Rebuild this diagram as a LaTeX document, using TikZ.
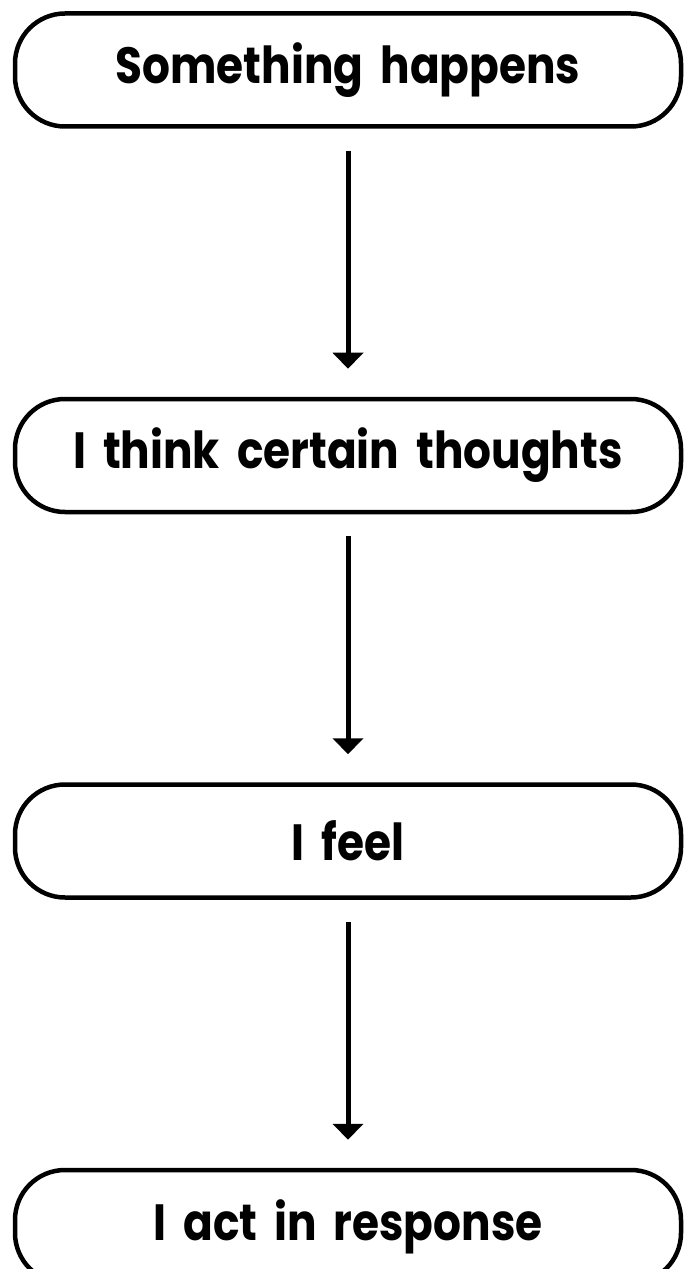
\documentclass[tikz,border=0pt]{standalone}
\usepackage{fontspec}
\setmainfont{Poppins}[BoldFont={* Bold}, BoldFeatures={FakeStretch=0.86}]
\usepackage{tikz}
\usetikzlibrary{shapes,arrows.meta,positioning}

\begin{document}
\begin{tikzpicture}[
    stage/.style={rectangle, rounded corners=1cm, draw, line width=0.09cm, text width=13cm, align=center, minimum width=13.32cm, minimum height=2.26cm, font=\bfseries\fontsize{29}{33}\selectfont},
    arrow/.style={-{Triangle[width=0.6cm,length=0.32cm]}, line width=0.1cm, shorten <=0.44cm, shorten >=0.56cm}
]
    \useasboundingbox (0,0) rectangle (13.68,-25.38);
    \node[stage] (happens) at (6.96,-1.4) {Something happens};
    \node[stage, below=5.36cm of happens] (thoughts) {I think certain thoughts};
    \node[stage, below=5.36cm of thoughts] (feel) {I feel};
    \node[stage, below=5.36cm of feel] (act) {I act in response};

    \draw[arrow] (happens) -- (thoughts);
    \draw[arrow] (thoughts) -- (feel);
    \draw[arrow] (feel) -- (act);
\end{tikzpicture}
\end{document}
